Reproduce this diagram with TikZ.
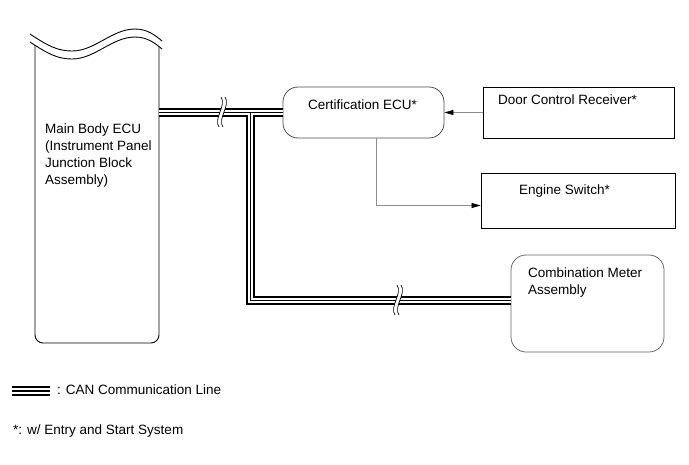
\documentclass[tikz,border=0pt]{standalone}
\usepackage{fontspec}
\setmainfont{Liberation Sans}
\usetikzlibrary{arrows.meta}
\tikzset{
  canouter/.style={line width=9.6pt},
  caninner/.style={line width=5.8pt, white},
  cancore/.style={line width=1.9pt},
  ecubox/.style={draw=black!70, line width=0.8pt, rounded corners=15pt},
  partbox/.style={draw, line width=0.8pt},
  sig/.style={draw=black!45, line width=0.7pt},
  txt/.style={inner sep=0pt, align=left}
}
% wavy cut on a CAN line
\newcommand{\canbreak}[2]{%
  \begin{scope}[shift={(#1,#2)}]
    \fill[white] (1,-15) .. controls (7,-7) and (-7,7) .. (-1,15)
      -- (3,15) .. controls (-3,7) and (11,-7) .. (5,-15) -- cycle;
    \draw[line width=0.7pt] (1,-15) .. controls (7,-7) and (-7,7) .. (-1,15);
    \draw[line width=0.7pt] (5,-15) .. controls (11,-7) and (-3,7) .. (3,15);
  \end{scope}}
\begin{document}
\begin{tikzpicture}[x=1pt, y=-1pt, font=\fontsize{13.5}{17}\selectfont, >={Triangle[length=9pt,width=5pt,color=black]}]
  \useasboundingbox (0,0) rectangle (689,464);
  % main body (cut off at top)
  \draw[line width=0.9pt, rounded corners=8pt] (35,45) -- (35,343) -- (159,343) -- (159,47);
  \draw[line width=0.9pt] (30,34) .. controls (48,46) and (58,51) .. (72,51) .. controls (95,51) and (112,29) .. (135,29) .. controls (147,29) and (155,35) .. (162,41);
  \draw[line width=0.9pt] (30,42) .. controls (48,54) and (58,59) .. (72,59) .. controls (95,59) and (112,37) .. (135,37) .. controls (147,37) and (155,43) .. (162,49);
  \node[txt, anchor=base west] (mainTxt) at (45,184) {Main Body ECU\\(Instrument Panel\\Junction Block\\Assembly)};
  \coordinate (mainR) at (159,112.5);

  \node[ecubox, minimum width=161pt, minimum height=51pt] (cert) at (363.5,112.5) {};
  \node[txt, anchor=base] (certTxt) at (362.5,109) {Certification ECU*};

  \node[partbox, minimum width=191pt, minimum height=51pt] (door) at (578.5,112.5) {};
  \node[txt, anchor=base west] (doorTxt) at (498,104) {Door Control Receiver*};

  \node[partbox, minimum width=194pt, minimum height=55pt] (engine) at (578,200.5) {};
  \node[txt, anchor=base west] (engineTxt) at (519,194) {Engine Switch*};

  \node[ecubox, draw=black!60, minimum width=153pt, minimum height=97pt] (comb) at (587.5,303.5) {};
  \node[txt, anchor=base west] (combTxt) at (528,294) {Combination Meter\\Assembly};

  % signal lines
  \draw[sig, ->] (door.west) -- (cert.east);
  \draw[sig, ->] ([xshift=12.5pt]cert.south) |- ([yshift=-5pt]engine.west);

  % CAN lines
  \coordinate (tee) at (250.5,112.5);
  \coordinate (legA) at (12,391);
  \coordinate (legB) at (50,391);
  \foreach \sty in {canouter, caninner, cancore} {
    \draw[\sty] (mainR) -- (cert.west);
    \draw[\sty] (tee) |- ([yshift=3pt]comb.west);
    \draw[\sty] (legA) -- (legB);
  }
  \canbreak{220}{112}
  \canbreak{396}{300}

  % legend
  \node[txt, anchor=base west] (legTxt) at (57,394) {: CAN Communication Line};
  \node[txt, anchor=base west] (noteTxt) at (13,434) {*: w/ Entry and Start System};
\end{tikzpicture}
\end{document}
